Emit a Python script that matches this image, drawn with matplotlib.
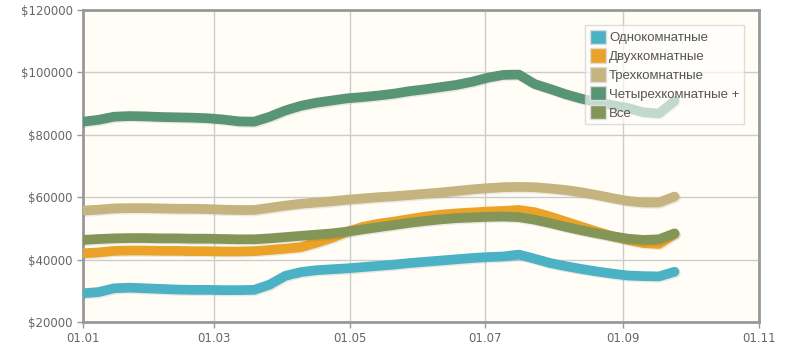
import matplotlib
matplotlib.use("Agg")
import matplotlib.pyplot as plt
import matplotlib.dates as mdates
import matplotlib.patheffects as pe
from matplotlib.patches import Patch
import pandas as pd

# недельные точки с 1 января
dates = pd.date_range("2013-01-01", periods=39, freq="7D")

one_room = [29200, 29600, 30800, 31000, 30800, 30600, 30400, 30300, 30300, 30200,
            30200, 30300, 32000, 34800, 36000, 36600, 36900, 37200, 37600, 38000,
            38400, 38900, 39300, 39700, 40100, 40500, 40800, 41000, 41600, 40300,
            38900, 37900, 37000, 36200, 35500, 34900, 34700, 34600, 36100]
two_room = [42000, 42300, 42800, 42900, 42900, 42800, 42800, 42700, 42700, 42600,
            42600, 42700, 43100, 43500, 44000, 45400, 47000, 49000, 50500, 51500,
            52200, 53000, 53800, 54400, 54800, 55100, 55400, 55600, 55900, 55200,
            53800, 52200, 50600, 49000, 47500, 46300, 45300, 45000, 48200]
three_room = [55700, 56000, 56400, 56500, 56500, 56400, 56300, 56300, 56200, 56000,
              55900, 55900, 56600, 57300, 57900, 58300, 58700, 59200, 59600, 60000,
              60300, 60700, 61100, 61500, 62000, 62500, 62900, 63200, 63300, 63200,
              62800, 62300, 61600, 60700, 59700, 58800, 58300, 58300, 60200]
four_room = [84200, 84800, 85800, 86000, 85900, 85700, 85600, 85500, 85300, 84900,
             84300, 84200, 85800, 87800, 89300, 90300, 91000, 91700, 92100, 92600,
             93200, 94000, 94600, 95300, 96000, 97000, 98300, 99200, 99300, 96300,
             94700, 93000, 91600, 90500, 89500, 88600, 87200, 86800, 90800]
all_flats = [46300, 46600, 46800, 46900, 46900, 46800, 46800, 46700, 46700, 46600,
             46500, 46500, 46800, 47200, 47600, 48000, 48400, 49000, 49700, 50400,
             51100, 51800, 52400, 52900, 53300, 53500, 53700, 53800, 53600, 52800,
             51700, 50500, 49400, 48400, 47500, 46700, 46300, 46500, 48400]

names = ["Однокомнатные", "Двухкомнатные", "Трехкомнатные", "Четырехкомнатные +", "Все"]
colors = ["#4bb2c5", "#eaa228", "#c5b47f", "#579575", "#839557"]
series = [one_room, two_room, three_room, four_room, all_flats]

fig = plt.figure(figsize=(8.01, 3.49), dpi=100, facecolor="white")
ax = fig.add_axes([0.1036, 0.0774, 0.844, 0.894])
ax.set_facecolor("#fffdf6")

shadow = [pe.SimpleLineShadow(offset=(1, -1), shadow_color="k", alpha=0.08), pe.Normal()]
for vals, c in zip(series, colors):
    ax.plot(dates, vals, color=c, lw=7, solid_capstyle="round", solid_joinstyle="round",
            path_effects=shadow, zorder=3)

ax.set_xlim(pd.Timestamp("2013-01-01"), pd.Timestamp("2013-11-01"))
ax.set_ylim(20000, 120000)
ax.set_yticks(range(20000, 120001, 20000))
ax.set_yticklabels(["$%d" % v for v in range(20000, 120001, 20000)])
ax.xaxis.set_major_locator(mdates.MonthLocator(bymonth=[1, 3, 5, 7, 9, 11]))
ax.xaxis.set_major_formatter(mdates.DateFormatter("%d.%m"))

ax.grid(True, color="#cccccc", lw=1)
ax.set_axisbelow(True)
for s in ax.spines.values():
    s.set_color("#999999")
    s.set_linewidth(2)
ax.tick_params(colors="#999999", labelcolor="#666666", labelsize=8.5, length=4, width=1)

handles = [Patch(facecolor=c, edgecolor="#dddddd", lw=1) for c in colors]
leg = ax.legend(handles, names, loc="upper right", bbox_to_anchor=(0.978, 0.952),
                prop={"family": "Liberation Sans", "size": 9.5}, frameon=True,
                fancybox=False, framealpha=0.65,
                edgecolor="#cccccc", handlelength=1.2, handleheight=1.3,
                handletextpad=0.25, labelspacing=0.32, borderpad=0.35, borderaxespad=0)
for t in leg.get_texts():
    t.set_color("#555555")
leg.set_zorder(5)

plt.savefig("out.png", dpi=100)
